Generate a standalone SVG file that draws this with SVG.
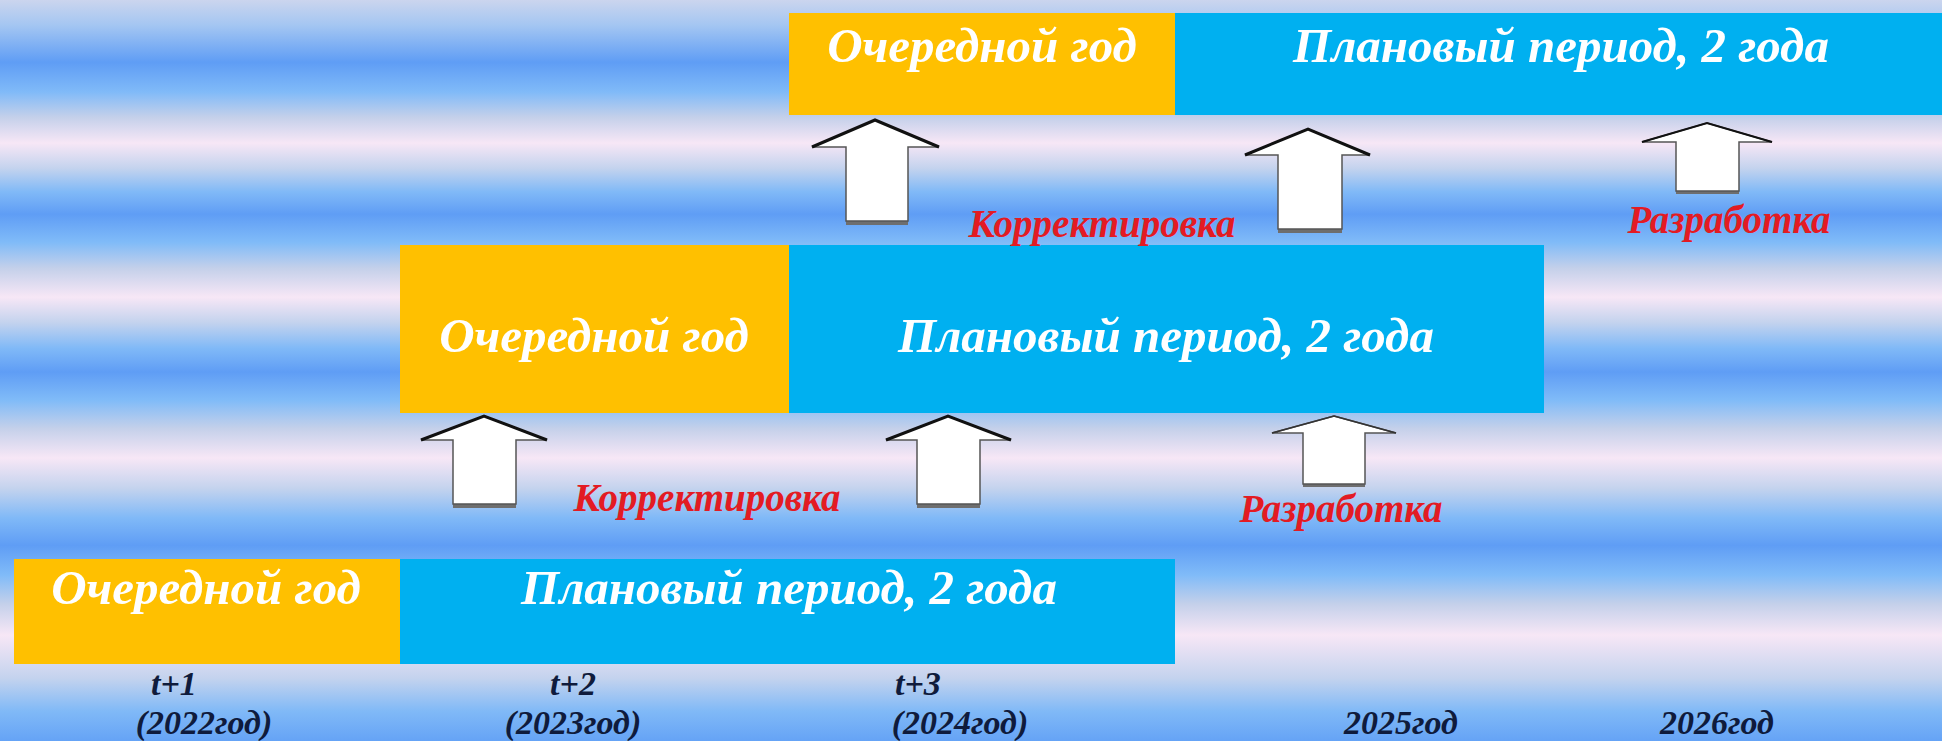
<svg xmlns="http://www.w3.org/2000/svg" width="1942" height="741" viewBox="0 0 1942 741">
<defs>
<linearGradient id="bg" gradientUnits="userSpaceOnUse" x1="0" y1="0" x2="0" y2="741">
<stop offset="0" stop-color="#cbd5ee"/>
<stop offset="0.034" stop-color="#a4c6f2"/>
<stop offset="0.084" stop-color="#5f9df5"/>
<stop offset="0.124" stop-color="#80baf8"/>
<stop offset="0.158" stop-color="#c4d0ea"/>
<stop offset="0.193" stop-color="#f7e7f6"/>
<stop offset="0.227" stop-color="#c4d3ee"/>
<stop offset="0.259" stop-color="#80b9f7"/>
<stop offset="0.289" stop-color="#5f9df5"/>
<stop offset="0.327" stop-color="#80bbf8"/>
<stop offset="0.362" stop-color="#c4d0ea"/>
<stop offset="0.401" stop-color="#f7e7f6"/>
<stop offset="0.435" stop-color="#c4d3ee"/>
<stop offset="0.470" stop-color="#80b9f7"/>
<stop offset="0.502" stop-color="#5f9df5"/>
<stop offset="0.540" stop-color="#80bbf8"/>
<stop offset="0.578" stop-color="#c4d0ea"/>
<stop offset="0.618" stop-color="#f7e7f6"/>
<stop offset="0.659" stop-color="#c4d3ee"/>
<stop offset="0.699" stop-color="#80b9f7"/>
<stop offset="0.736" stop-color="#5f9df5"/>
<stop offset="0.776" stop-color="#80bbf8"/>
<stop offset="0.815" stop-color="#c4d0ea"/>
<stop offset="0.857" stop-color="#f7e7f6"/>
<stop offset="0.915" stop-color="#c4d3ee"/>
<stop offset="0.960" stop-color="#80b9f7"/>
<stop offset="1" stop-color="#65a3f6"/>
</linearGradient>
</defs>
<style>
.yel{fill:#ffc000}
.blu{fill:#00b0f0}
.bt{font-family:"Liberation Serif","DejaVu Serif",serif;font-weight:bold;font-style:italic;font-size:49px;fill:#ffffff;text-anchor:middle}
.red{font-family:"Liberation Serif","DejaVu Serif",serif;font-weight:bold;font-style:italic;font-size:39px;fill:#e31b23;text-anchor:middle}
.yr{font-family:"Liberation Serif","DejaVu Serif",serif;font-weight:bold;font-style:italic;font-size:34px;fill:#0f1b3c}
.arr{fill:#ffffff;stroke:#555;stroke-width:1.5}
.edge{fill:none;stroke:#111;stroke-width:3;stroke-linejoin:miter}
.sh{fill:#6e6e6e}
</style>
<rect x="0" y="0" width="1942" height="741" fill="url(#bg)"/>

<g id="row3">
<rect class="yel" x="789" y="13" width="386" height="102"/>
<rect class="blu" x="1175" y="13" width="767" height="102"/>
<text class="bt" x="982" y="62">Очередной год</text>
<text class="bt" x="1561" y="62">Плановый период, 2 года</text>
</g>

<g id="row2">
<rect class="yel" x="400" y="245" width="389" height="168"/>
<rect class="blu" x="789" y="245" width="755" height="168"/>
<text class="bt" x="594" y="352">Очередной год</text>
<text class="bt" x="1166" y="352">Плановый период, 2 года</text>
</g>

<g id="row1">
<rect class="yel" x="14" y="559" width="386" height="105"/>
<rect class="blu" x="400" y="559" width="775" height="105"/>
<text class="bt" x="206" y="604">Очередной год</text>
<text class="bt" x="789" y="604">Плановый период, 2 года</text>
</g>

<g id="connectors">
<g id="a1">
<rect class="sh" x="846" y="219" width="62" height="6"/>
<path class="arr" d="M875,120 L939,147 L908,147 L908,221 L846,221 L846,147 L812,147 Z"/>
<path class="edge" d="M812,147 L875,120 L939,147"/>
</g>
<g id="a2">
<rect class="sh" x="1278" y="227" width="64" height="6"/>
<path class="arr" d="M1308,129 L1370,155 L1342,155 L1342,229 L1278,229 L1278,155 L1245,155 Z"/>
<path class="edge" d="M1245,155 L1308,129 L1370,155"/>
</g>
<g id="a3">
<rect class="sh" x="1676" y="190" width="63" height="4"/>
<path class="arr" d="M1707,123 L1772,142 L1739,142 L1739,191 L1676,191 L1676,142 L1642,142 Z"/>
<path class="edge" style="stroke-width:2" d="M1642,142 L1707,123 L1772,142"/>
</g>
<g id="b1">
<rect class="sh" x="453" y="502" width="63" height="6"/>
<path class="arr" d="M484,416 L547,440 L516,440 L516,504 L453,504 L453,440 L421,440 Z"/>
<path class="edge" d="M421,440 L484,416 L547,440"/>
</g>
<g id="b2">
<rect class="sh" x="917" y="502" width="63" height="6"/>
<path class="arr" d="M948,416 L1011,440 L980,440 L980,504 L917,504 L917,440 L886,440 Z"/>
<path class="edge" d="M886,440 L948,416 L1011,440"/>
</g>
<g id="b3">
<rect class="sh" x="1303" y="483" width="62" height="4"/>
<path class="arr" d="M1334,416 L1396,433 L1365,433 L1365,484 L1303,484 L1303,433 L1272,433 Z"/>
<path class="edge" style="stroke-width:1.5;stroke:#333" d="M1272,433 L1334,416 L1396,433"/>
</g>
</g>

<g id="labels">
<text class="red" x="1102" y="237">Корректировка</text>
<text class="red" x="1729" y="233">Разработка</text>
<text class="red" x="707" y="511">Корректировка</text>
<text class="red" x="1341" y="522">Разработка</text>
</g>

<g id="years">
<text class="yr" x="151" y="695">t+1</text>
<text class="yr" x="204" y="734" text-anchor="middle">(2022год)</text>
<text class="yr" x="573" y="695" text-anchor="middle">t+2</text>
<text class="yr" x="573" y="734" text-anchor="middle">(2023год)</text>
<text class="yr" x="895" y="695">t+3</text>
<text class="yr" x="960" y="734" text-anchor="middle">(2024год)</text>
<text class="yr" x="1401" y="734" text-anchor="middle">2025год</text>
<text class="yr" x="1717" y="734" text-anchor="middle">2026год</text>
</g>
</svg>
